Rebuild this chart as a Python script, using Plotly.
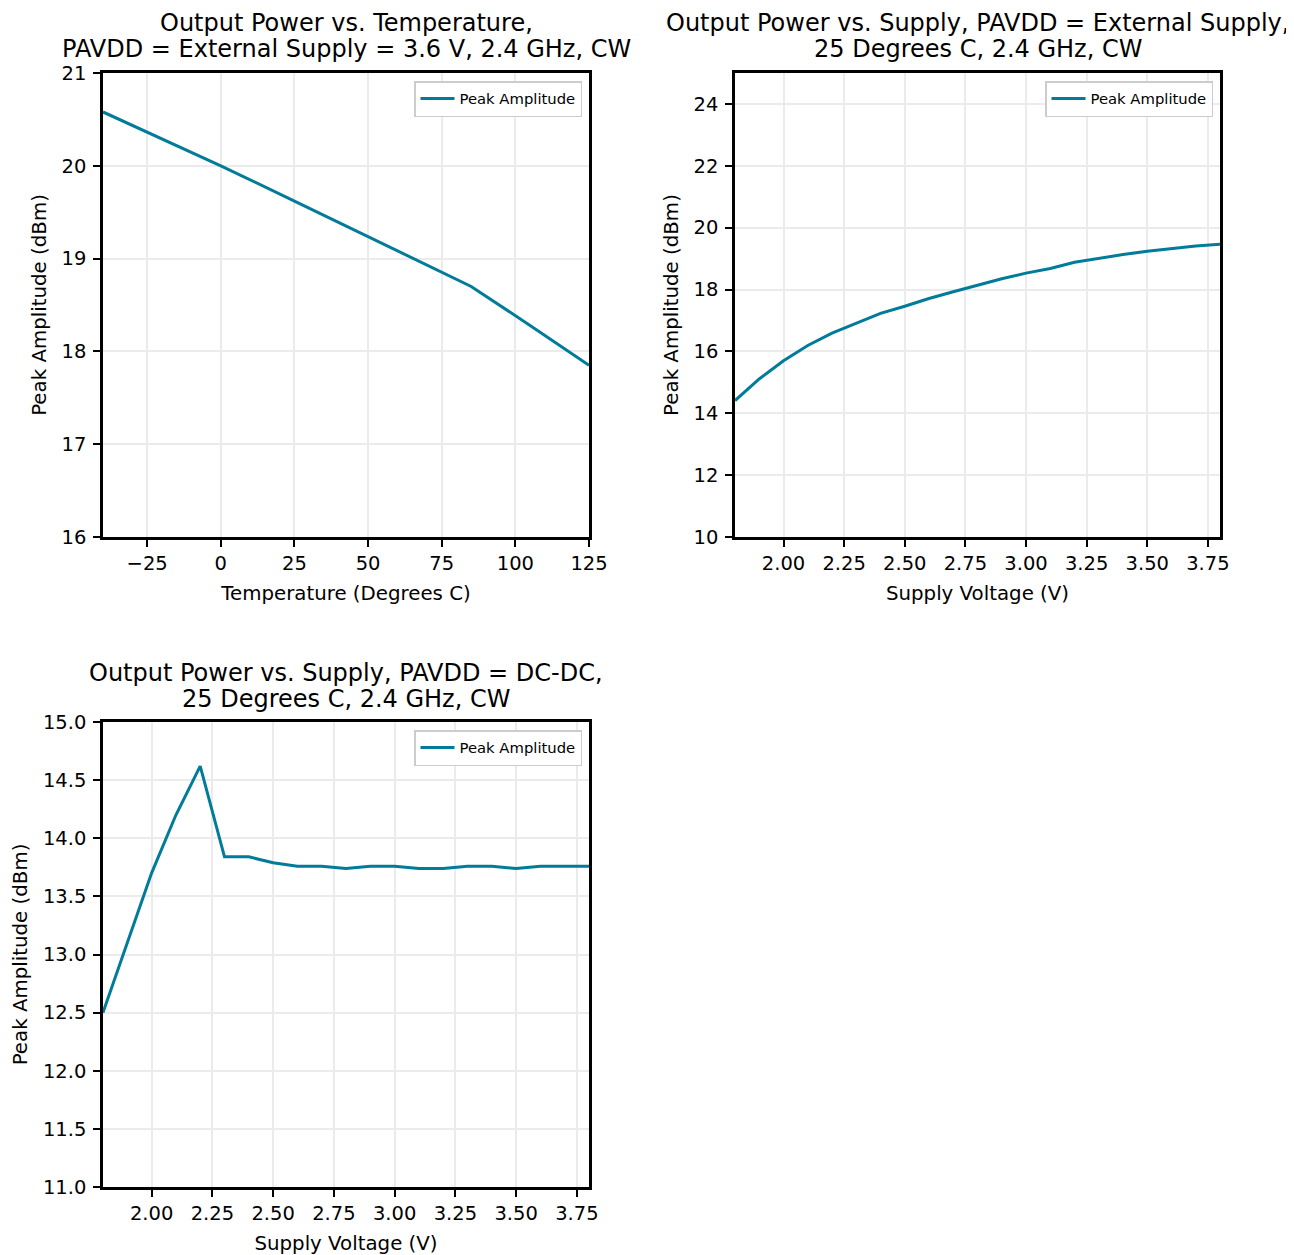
import plotly.graph_objects as go

# ---- data ----
temp_c = [-40, -20, 0, 25, 50, 85, 105, 125]
temp_pwr = [20.58, 20.29, 20.0, 19.62, 19.24, 18.70, 18.28, 17.85]

ext_v = [1.8, 1.9, 2.0, 2.1, 2.2, 2.3, 2.4, 2.5, 2.6, 2.7, 2.8, 2.9, 3.0,
         3.1, 3.2, 3.3, 3.4, 3.5, 3.6, 3.7, 3.8]
ext_pwr = [14.41, 15.11, 15.70, 16.19, 16.59, 16.92, 17.23, 17.46, 17.71,
           17.93, 18.15, 18.35, 18.53, 18.68, 18.88, 19.01, 19.13, 19.24,
           19.33, 19.41, 19.46]

dcdc_v = [1.8, 1.9, 2.0, 2.1, 2.2, 2.3, 2.4, 2.5, 2.6, 2.7, 2.8, 2.9, 3.0,
          3.1, 3.2, 3.3, 3.4, 3.5, 3.6, 3.7, 3.8]
dcdc_pwr = [12.50, 13.10, 13.70, 14.20, 14.62, 13.84, 13.84, 13.79, 13.76,
            13.76, 13.74, 13.76, 13.76, 13.74, 13.74, 13.76, 13.76, 13.74,
            13.76, 13.76, 13.76]

title_lines = [
    ["Output Power vs. Temperature,", "PAVDD = External Supply = 3.6 V, 2.4 GHz, CW"],
    ["Output Power vs. Supply, PAVDD = External Supply,", "25 Degrees C, 2.4 GHz, CW"],
    ["Output Power vs. Supply, PAVDD = DC-DC,", "25 Degrees C, 2.4 GHz, CW"],
]
x_titles = ["Temperature (Degrees C)", "Supply Voltage (V)", "Supply Voltage (V)"]
y_title = "Peak Amplitude (dBm)"
series_name = "Peak Amplitude"

# ---- style ----
OFF = 8                      # page body margin
W, H = 1294 - OFF, 1255 - OFF
FONT = "DejaVu Sans"
LINE_COLOR = "#007B9A"
GRID = "#ebebeb"

def px_x(s):
    return (s - OFF) / W

def px_y(s):
    return 1 - (s - OFF) / H

dom_x = [[px_x(103), px_x(589)], [px_x(735), px_x(1220)], [px_x(103), px_x(589)]]
dom_y = [[px_y(537), px_y(73)], [px_y(537), px_y(73)], [px_y(1187), px_y(722)]]
top_px = [73, 73, 722]
right_px = [589, 1220, 589]
title_mid_px = [[23, 49], [23, 49], [673, 699]]

fig = go.Figure()
data = [(temp_c, temp_pwr), (ext_v, ext_pwr), (dcdc_v, dcdc_pwr)]
for i, (xv, yv) in enumerate(data):
    sfx = "" if i == 0 else str(i + 1)
    fig.add_trace(go.Scatter(
        x=xv, y=yv, mode="lines", name=series_name,
        line=dict(color=LINE_COLOR, width=3),
        xaxis="x" + sfx, yaxis="y" + sfx,
        legend="legend" + sfx, showlegend=True,
    ))

axis_common = dict(
    showline=True, linecolor="black", linewidth=2.5, mirror=True,
    ticks="outside", ticklen=7, tickwidth=2, tickcolor="black",
    showgrid=True, gridcolor=GRID, gridwidth=1.5, zeroline=False,
    tickfont=dict(family=FONT, size=19.5, color="black"),
    automargin=False,
)

xranges = [[-40, 125], [1.8, 3.8], [1.8, 3.8]]
yranges = [[16, 21], [10, 25], [11, 15]]
xticks = [dict(tick0=-25, dtick=25), dict(tick0=2.0, dtick=0.25, tickformat=".2f"),
          dict(tick0=2.0, dtick=0.25, tickformat=".2f")]
yticks = [dict(tick0=16, dtick=1), dict(tick0=10, dtick=2), dict(tick0=11, dtick=0.5, tickformat=".1f")]

layout = dict(
    width=W, height=H,
    margin=dict(l=0, r=0, t=0, b=0, autoexpand=False),
    paper_bgcolor="white", plot_bgcolor="white",
    font=dict(family=FONT, color="black"),
    annotations=[],
)
for i in range(3):
    sfx = "" if i == 0 else str(i + 1)
    xa = dict(axis_common, domain=dom_x[i], range=xranges[i], anchor="y" + sfx,
              title=dict(text=x_titles[i], font=dict(family=FONT, size=19.8), standoff=12),
              **xticks[i])
    ya = dict(axis_common, domain=dom_y[i], range=yranges[i], anchor="x" + sfx,
              ticklabelstandoff=3,
              title=dict(text=y_title, font=dict(family=FONT, size=19.8), standoff=10),
              **yticks[i])
    layout["xaxis" + sfx] = xa
    layout["yaxis" + sfx] = ya
    layout["legend" + sfx] = dict(
        x=px_x(right_px[i] - 7), y=px_y(top_px[i] + 8),
        xanchor="right", yanchor="top",
        bgcolor="white", bordercolor="#cccccc", borderwidth=1.5,
        font=dict(family=FONT, size=14.8, color="black"),
        itemwidth=34, tracegroupgap=0,
    )
    for line_text, mid in zip(title_lines[i], title_mid_px[i]):
        layout["annotations"].append(dict(
            text=line_text, xref="paper", yref="paper",
            x=(dom_x[i][0] + dom_x[i][1]) / 2, y=px_y(mid),
            xanchor="center", yanchor="middle", showarrow=False,
            font=dict(family=FONT, size=24, color="black"),
        ))

fig.update_layout(**layout)
fig.write_html("out.html")
